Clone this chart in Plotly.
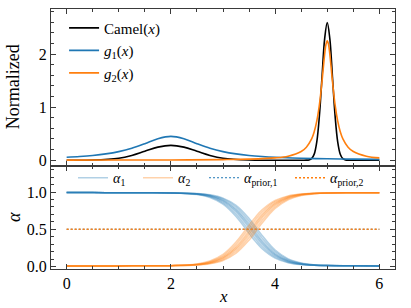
import plotly.graph_objects as go
from plotly.subplots import make_subplots

# ---------------- data ----------------
x_camel = [0, 0.5, 1, 1.25, 1.5, 1.75, 2, 2.25, 2.5, 2.75, 3, 3.5, 4, 4.5, 4.6, 4.65,
           4.7, 4.75, 4.8, 4.85, 4.9, 4.95, 5, 5.05, 5.1, 5.15, 5.2, 5.25, 5.3, 5.35,
           5.4, 5.5, 6]
camel = [0.0001, 0.0031, 0.0378, 0.0906, 0.169, 0.246, 0.279, 0.246, 0.169, 0.0906,
         0.0378, 0.0031, 0.0001, 0.0, 0.0009, 0.0057, 0.0288, 0.114, 0.351, 0.842,
         1.573, 2.288, 2.593, 2.288, 1.573, 0.842, 0.351, 0.114, 0.0288, 0.0057,
         0.0009, 0.0, 0.0]

x_g1 = [0, 0.25, 0.5, 0.75, 1, 1.25, 1.5, 1.75, 2, 2.25, 2.5, 2.75, 3, 3.25, 3.5,
        3.75, 4, 4.5, 5, 5.5, 6]
g1 = [0.0555, 0.0699, 0.09, 0.119, 0.162, 0.225, 0.3115, 0.405, 0.45, 0.405, 0.3115,
      0.225, 0.162, 0.119, 0.09, 0.0699, 0.0555, 0.0372, 0.0265, 0.0197, 0.0153]

x_g2 = [0, 1, 2, 3, 3.5, 4, 4.25, 4.5, 4.6, 4.7, 4.75, 4.8, 4.85, 4.9, 4.95, 4.975,
        5, 5.025, 5.05, 5.1, 5.15, 5.2, 5.25, 5.3, 5.4, 5.5, 5.75, 6]
g2 = [0.0018, 0.0028, 0.0049, 0.011, 0.0194, 0.0433, 0.0758, 0.1635, 0.2456, 0.402,
      0.537, 0.740, 1.047, 1.490, 1.995, 2.18, 2.25, 2.18, 1.995, 1.490, 1.047, 0.740,
      0.537, 0.402, 0.2456, 0.1635, 0.0758, 0.0433]

x_alpha = [0, 0.5, 1, 1.5, 2, 2.5, 2.75, 3, 3.25, 3.5, 3.625, 3.75, 4, 4.25, 4.5,
           4.75, 5, 5.5, 6]
alpha1_members = [
    [0.993, 0.993, 0.992, 0.991, 0.989, 0.966, 0.926, 0.837, 0.671, 0.445, 0.334, 0.240, 0.113, 0.051, 0.025, 0.015, 0.012, 0.009, 0.008],
    [0.993, 0.993, 0.992, 0.991, 0.989, 0.970, 0.935, 0.856, 0.703, 0.482, 0.368, 0.268, 0.128, 0.058, 0.028, 0.016, 0.012, 0.009, 0.008],
    [0.993, 0.993, 0.992, 0.991, 0.989, 0.973, 0.943, 0.873, 0.733, 0.519, 0.404, 0.298, 0.145, 0.066, 0.031, 0.017, 0.012, 0.009, 0.008],
    [0.993, 0.993, 0.992, 0.991, 0.989, 0.975, 0.948, 0.885, 0.754, 0.547, 0.431, 0.322, 0.159, 0.072, 0.034, 0.018, 0.012, 0.009, 0.008],
    [0.993, 0.993, 0.992, 0.991, 0.989, 0.977, 0.953, 0.895, 0.774, 0.575, 0.459, 0.347, 0.174, 0.080, 0.037, 0.019, 0.012, 0.009, 0.008],
    [0.993, 0.993, 0.992, 0.991, 0.989, 0.979, 0.958, 0.908, 0.799, 0.611, 0.496, 0.381, 0.196, 0.090, 0.042, 0.021, 0.012, 0.009, 0.008],
    [0.993, 0.993, 0.992, 0.991, 0.989, 0.981, 0.963, 0.919, 0.822, 0.646, 0.533, 0.417, 0.220, 0.103, 0.047, 0.023, 0.012, 0.009, 0.008],
]
x_prior = [0, 6]
alpha_prior1 = [0.5, 0.5]
alpha_prior2 = [0.5, 0.5]

BLUE = "#1f77b4"
ORANGE = "#ff7f0e"
BLUE_T = "rgba(31,119,180,0.35)"
ORANGE_T = "rgba(255,127,14,0.35)"
FRAME = "#3a3a3a"
FONT = "Liberation Serif"

fig = make_subplots(rows=2, cols=1, shared_xaxes=True, vertical_spacing=0,
                    row_heights=[0.604, 0.396])

# ---------------- top panel ----------------
fig.add_trace(go.Scatter(x=x_camel, y=camel, mode="lines", line=dict(color="black", width=1.6, shape="spline"),
                         name="Camel(<i>x</i>)", legend="legend"), row=1, col=1)
fig.add_trace(go.Scatter(x=x_g1, y=g1, mode="lines", line=dict(color=BLUE, width=1.6, shape="spline"),
                         name="<i>g</i><sub>1</sub>(<i>x</i>)", legend="legend"), row=1, col=1)
fig.add_trace(go.Scatter(x=x_g2, y=g2, mode="lines", line=dict(color=ORANGE, width=1.6, shape="spline"),
                         name="<i>g</i><sub>2</sub>(<i>x</i>)", legend="legend"), row=1, col=1)

# ---------------- bottom panel ----------------
for i, m in enumerate(alpha1_members):
    fig.add_trace(go.Scatter(x=x_alpha, y=m, mode="lines",
                             line=dict(color=BLUE_T, width=1.5, shape="spline"),
                             name="<i>α</i><sub>1</sub>", legend="legend2", legendwidth=20,
                             showlegend=(i == 0), legendgroup="a1"), row=2, col=1)
for i, m in enumerate(alpha1_members):
    fig.add_trace(go.Scatter(x=x_alpha, y=[1 - v for v in m], mode="lines",
                             line=dict(color=ORANGE_T, width=1.5, shape="spline"),
                             name="<i>α</i><sub>2</sub>", legend="legend2", legendwidth=21,
                             showlegend=(i == 0), legendgroup="a2"), row=2, col=1)
fig.add_trace(go.Scatter(x=x_prior, y=alpha_prior1, mode="lines",
                         line=dict(color=BLUE, width=1.0, dash="2px,2px"),
                         name="<i>α</i><sub>prior,1</sub>", legend="legend2", legendwidth=41),
              row=2, col=1)
fig.add_trace(go.Scatter(x=x_prior, y=alpha_prior2, mode="lines",
                         line=dict(color=ORANGE, width=1.6, dash="2px,2px"),
                         name="<i>α</i><sub>prior,2</sub>", legend="legend2", legendwidth=45),
              row=2, col=1)

axis_common = dict(showline=True, linecolor=FRAME, linewidth=1, mirror="ticks",
                   ticks="inside", ticklen=5, tickwidth=1, tickcolor=FRAME,
                   showgrid=False, zeroline=False,
                   tickfont=dict(family=FONT, size=16, color="black"))
minor_common = dict(ticks="inside", ticklen=3, tickwidth=0.8, tickcolor=FRAME, showgrid=False)

fig.update_xaxes(**axis_common, range=[-0.3, 6.3], tick0=0, dtick=2,
                 minor=dict(**minor_common, dtick=0.5, tick0=0))
fig.update_yaxes(**axis_common)
fig.update_yaxes(range=[-0.11, 2.85], tick0=0, dtick=1,
                 minor=dict(**minor_common, dtick=0.2, tick0=0), row=1, col=1)
fig.update_yaxes(range=[-0.034, 1.35], tick0=0, dtick=0.5, tickformat=".1f",
                 minor=dict(**minor_common, dtick=0.1, tick0=0), row=2, col=1)

fig.update_layout(
    width=411, height=308,
    margin=dict(l=51, r=16, t=9, b=39),
    paper_bgcolor="white", plot_bgcolor="white",
    font=dict(family=FONT, size=14, color="black"),
    legend=dict(x=0.038, y=0.99, xanchor="left", yanchor="top", bgcolor="rgba(0,0,0,0)",
                font=dict(family=FONT, size=15, color="black"), tracegroupgap=0),
    legend2=dict(orientation="h", x=0.064, y=0.411, xanchor="left", yanchor="top",
                 bgcolor="rgba(0,0,0,0)", font=dict(family=FONT, size=14, color="black")),
    annotations=[
        dict(text="Normalized", xref="paper", yref="paper", x=-0.11, y=0.70,
             xanchor="center", yanchor="middle", textangle=-90, showarrow=False,
             font=dict(family=FONT, size=18, color="black")),
        dict(text="<i>α</i>", xref="paper", yref="paper", x=-0.109, y=0.198,
             xanchor="center", yanchor="middle", textangle=-90, showarrow=False,
             font=dict(family=FONT, size=18, color="black")),
        dict(text="<i>x</i>", xref="paper", yref="paper", x=0.5, y=-0.106,
             xanchor="center", yanchor="middle", showarrow=False,
             font=dict(family=FONT, size=17, color="black")),
    ],
)

fig.write_html("out.html", config={"displayModeBar": False},
               post_script="document.body.style.margin='0px';document.body.style.overflow='hidden';")
